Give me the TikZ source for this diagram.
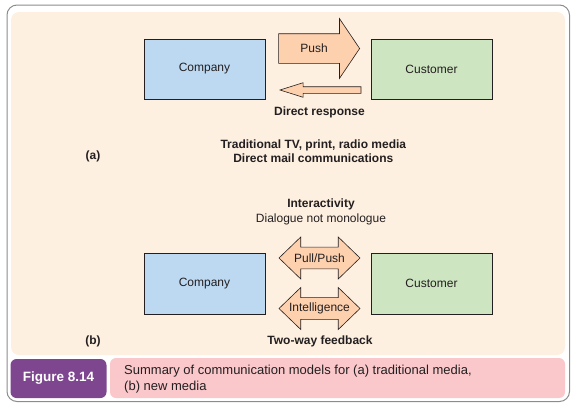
\documentclass[tikz,border=0pt]{standalone}
\usepackage{fontspec}
\setmainfont{Liberation Sans}
\usepackage{tikz}
\usetikzlibrary{shapes.arrows}
\definecolor{ink}{HTML}{231F20}
\definecolor{cream}{HTML}{FEF0E0}
\definecolor{coblue}{HTML}{BCD9F1}
\definecolor{cugreen}{HTML}{CDE5C1}
\definecolor{arrowfill}{HTML}{FDD0AE}
\definecolor{tagpurple}{HTML}{7F4690}
\definecolor{cappink}{HTML}{FAC8CB}

\begin{document}
\begin{tikzpicture}[x=1pt, y=-1pt,
  every node/.style={font=\fontsize{12}{14.3}\selectfont, text=ink},
  party/.style={draw=ink, line width=0.8pt, minimum width=121pt, minimum height=60pt, inner sep=0pt},
  company/.style={party, fill=coblue},
  customer/.style={party, fill=cugreen},
  bigarrow/.style={draw=ink, line width=0.6pt, fill=arrowfill, inner xsep=0pt},
  twoway/.style={bigarrow, double arrow, minimum height=81pt, minimum width=42pt, inner ysep=10.5pt,
    double arrow head extend=10pt, double arrow tip angle=88},
  heading/.style={font=\bfseries\fontsize{12}{14.3}\selectfont, align=center}]
  \useasboundingbox (0,0) rectangle (578,408);
  % frame and panel
  \draw[black!45, line width=1pt, rounded corners=10pt] (7,5) rectangle (569.5,401.5);
  \fill[cream, rounded corners=8pt] (11,12) rectangle (565,355);
  % (a) traditional media
  \node[company] (comA) at (204.5,69) {Company};
  \node[customer] (cusA) at (431.5,69) {Customer};
  \node[bigarrow, single arrow, minimum height=81pt, minimum width=59pt, inner ysep=14.5pt,
    single arrow head extend=15pt, single arrow tip angle=112, anchor=tip] (push) at (360,48.5) {};
  \node (pushlbl) at (314,48) {Push};
  \node[bigarrow, single arrow, shape border rotate=180, minimum height=81pt, minimum width=14pt, inner ysep=3pt,
    single arrow head extend=4pt, single arrow tip angle=35, anchor=tip] (resp) at (279,90) {};
  \node[heading] (resplbl) at (319.5,112) {Direct response};
  \node[heading] (media) at (313.3,151) {Traditional TV, print, radio media\\Direct mail communications};
  \node[heading] (tagA) at (93,156) {(a)};
  % (b) new media
  \node[align=center] (inter) at (321,212) {\textbf{Interactivity}\\Dialogue not monologue};
  \node[company, minimum height=61pt] (comB) at (204.5,283.5) {Company};
  \node[customer, minimum height=61pt] (cusB) at (431.5,283.5) {Customer};
  \node[twoway] (pull) at (319.5,258) {};
  \node (pulllbl) at (pull) {Pull/Push};
  \node[twoway] (intel) at (319.5,308.5) {};
  \node (intellbl) at (intel) {Intelligence};
  \node[heading] (tagB) at (93,341) {(b)};
  \node[heading] (feedback) at (320,341) {Two-way feedback};
  % caption
  \node[fill=tagpurple, rounded corners=6pt, minimum width=96pt, minimum height=39pt,
    text=white, font=\bfseries\fontsize{13.5}{16}\selectfont] (fig) at (58.5,378.5) {Figure 8.14};
  \node[fill=cappink, rounded corners=6pt, minimum width=455pt, minimum height=40pt] (capbox) at (337.5,378) {};
  \node[anchor=west, align=left, inner sep=0pt, font=\fontsize{13}{16}\selectfont] (captxt) at (124,379)
    {Summary of communication models for (a) traditional media,\\(b) new media};
\end{tikzpicture}
\end{document}
